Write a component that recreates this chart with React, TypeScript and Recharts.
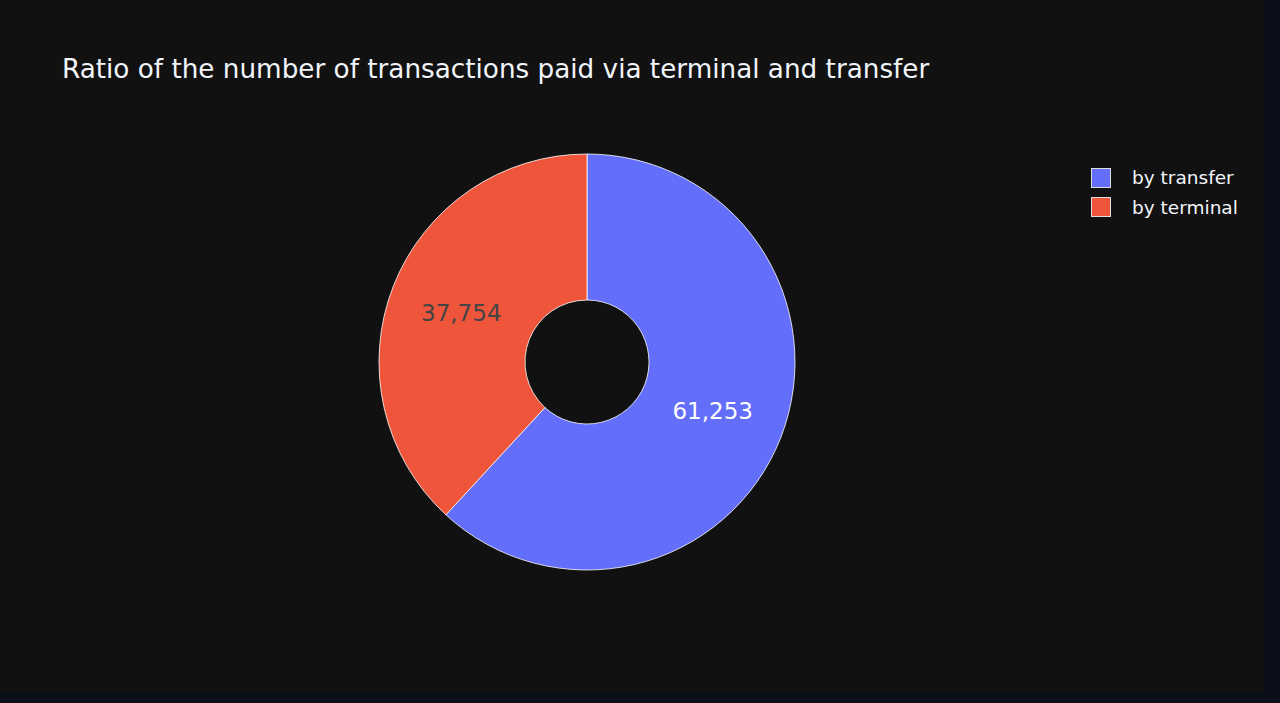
import React from 'react';
import { PieChart, Pie, Cell, Legend } from 'recharts';

const categories = ['by transfer', 'by terminal'];
const counts = [61253, 37754];
const colors = ['#636efa', '#EF553B'];
const labelColors = ['#ffffff', '#444444'];

const data = categories.map((name, i) => ({ name, value: counts[i], color: colors[i], textColor: labelColors[i] }));

const RAD = Math.PI / 180;
const FONT = '"DejaVu Sans", Verdana, sans-serif';

const renderLabel = (props: any) => {
  const { cx, cy, midAngle, innerRadius, outerRadius, index } = props;
  const r = (innerRadius + outerRadius) / 2;
  const x = cx + r * Math.cos(-midAngle * RAD);
  const y = cy + r * Math.sin(-midAngle * RAD);
  return (
    <text
      x={x}
      y={y}
      fill={data[index].textColor}
      textAnchor="middle"
      dominantBaseline="central"
      fontSize={23}
      fontFamily={FONT}
    >
      {data[index].value.toLocaleString('en-US')}
    </text>
  );
};

const renderLegend = () => (
  <div style={{ fontFamily: FONT, fontSize: 18.5, color: '#f2f5fa' }}>
    {data.map((d) => (
      <div key={d.name} style={{ display: 'flex', alignItems: 'center', height: 29.5 }}>
        <span
          style={{
            display: 'inline-block',
            width: 18,
            height: 18,
            background: d.color,
            border: '1px solid #dddddd',
            marginRight: 21,
          }}
        />
        <span>{d.name}</span>
      </div>
    ))}
  </div>
);

export default function App() {
  return (
    <div style={{ position: 'fixed', left: 0, top: 0, width: 1280, height: 703, background: '#0b0f19' }}>
      <div style={{ position: 'absolute', left: 0, top: 0, width: 1264, height: 692, background: '#111111' }}>
        <div
          style={{
            position: 'absolute',
            left: 62,
            top: 54,
            fontFamily: FONT,
            fontSize: 26.25,
            color: '#f2f5fa',
            whiteSpace: 'nowrap',
          }}
        >
          Ratio of the number of transactions paid via terminal and transfer
        </div>
        <PieChart width={1264} height={692} margin={{ top: 0, right: 0, bottom: 0, left: 0 }}>
          <Pie
            data={data}
            dataKey="value"
            nameKey="name"
            cx={587}
            cy={362}
            innerRadius={62}
            outerRadius={208}
            startAngle={90}
            endAngle={-270}
            stroke="#ffffff"
            strokeWidth={0.8}
            label={renderLabel}
            labelLine={false}
            isAnimationActive={false}
          >
            {data.map((d, i) => (
              <Cell key={`cell-${i}`} fill={d.color} />
            ))}
          </Pie>
          <Legend
            content={renderLegend}
            layout="vertical"
            wrapperStyle={{ position: 'absolute', left: 1091, top: 163, width: 170 }}
          />
        </PieChart>
      </div>
    </div>
  );
}
